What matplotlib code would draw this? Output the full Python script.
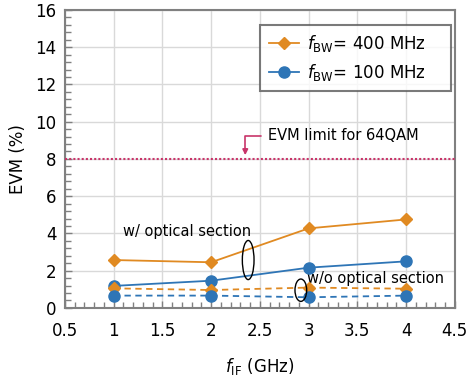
import matplotlib.pyplot as plt
from matplotlib.patches import Ellipse
from matplotlib.ticker import MultipleLocator, FuncFormatter

# data
f_if = [1, 2, 3, 4]
evm_400_with = [2.57, 2.45, 4.27, 4.75]
evm_100_with = [1.18, 1.46, 2.16, 2.50]
evm_400_without = [1.05, 0.96, 1.09, 1.03]
evm_100_without = [0.66, 0.66, 0.57, 0.66]
evm_limit = 8

orange = '#E08A22'
blue = '#2E75B6'
crimson = '#C8356A'
gray = '#808080'

plt.rcParams['font.family'] = ['DejaVu Sans']
plt.rcParams['mathtext.fontset'] = 'dejavusans'

fig = plt.figure(figsize=(4.67, 3.82), dpi=100)
ax = fig.add_axes([0.139, 0.194, 0.835, 0.78])

ax.plot(f_if, evm_400_with, color=orange, marker='D', markersize=6, lw=1.3,
        label=r'$\mathit{f}_{\mathrm{BW}}$= 400 MHz    ', zorder=4)
ax.plot(f_if, evm_100_with, color=blue, marker='o', markersize=8, lw=1.3,
        label=r'$\mathit{f}_{\mathrm{BW}}$= 100 MHz    ', zorder=4)
ax.plot(f_if, evm_400_without, color=orange, marker='D', markersize=6, lw=1.3,
        ls=(0, (3.5, 2.5)), zorder=4)
ax.plot(f_if, evm_100_without, color=blue, marker='o', markersize=8, lw=1.3,
        ls=(0, (3.5, 2.5)), zorder=4)

# 64QAM limit line with its label
ax.axhline(evm_limit, color=crimson, lw=1.5, ls=(0, (1, 1)), zorder=3)
ax.annotate('EVM limit for 64QAM', xy=(2.35, 8.2), xytext=(2.58, 9.25),
            fontsize=10.5, va='center', ha='left',
            arrowprops=dict(arrowstyle='-|>', color=crimson, lw=1.2,
                            mutation_scale=8, shrinkA=3, shrinkB=0,
                            connectionstyle='angle,angleA=180,angleB=90,rad=0'))

ax.text(1.1, 4.1, 'w/ optical section', fontsize=10.5, va='center', ha='left')
ax.text(2.98, 1.6, 'w/o optical section', fontsize=10.5, va='center', ha='left')
ax.add_patch(Ellipse((2.38, 2.57), 0.12, 2.1, fill=False, ec='black', lw=1, zorder=5))
ax.add_patch(Ellipse((2.92, 0.95), 0.12, 1.2, fill=False, ec='black', lw=1, zorder=5))

ax.set_xlim(0.5, 4.5)
ax.set_ylim(0, 16)
ax.xaxis.set_major_locator(MultipleLocator(0.5))
ax.xaxis.set_minor_locator(MultipleLocator(0.1))
ax.xaxis.set_major_formatter(FuncFormatter(lambda v, p: f'{v:g}'))
ax.yaxis.set_major_locator(MultipleLocator(2))
ax.yaxis.set_minor_locator(MultipleLocator(0.4))
ax.tick_params(which='both', direction='in', color=gray, labelsize=12)
ax.tick_params(which='major', length=5, width=1)
ax.tick_params(which='minor', length=4, width=1)
ax.tick_params(axis='x', pad=10)
ax.tick_params(axis='y', pad=6)
ax.grid(True, which='major', color='#D9D9D9', lw=1)
ax.set_axisbelow(True)
for s in ax.spines.values():
    s.set_color(gray)
    s.set_linewidth(1.5)

ax.set_xlabel(r'$\mathit{f}_{\mathrm{IF}}$ (GHz)', fontsize=12, labelpad=12)
ax.set_ylabel('EVM (%)', fontsize=12, labelpad=6)

leg = ax.legend(loc='upper right', fontsize=12, frameon=True, fancybox=False,
                borderpad=0.5, handlelength=1.8, handletextpad=0.5,
                labelspacing=0.45, borderaxespad=0,
                bbox_to_anchor=(0.99, 0.95))
leg.get_frame().set_edgecolor('#595959')
leg.get_frame().set_linewidth(1.5)

fig.savefig('out.png', dpi=100)
